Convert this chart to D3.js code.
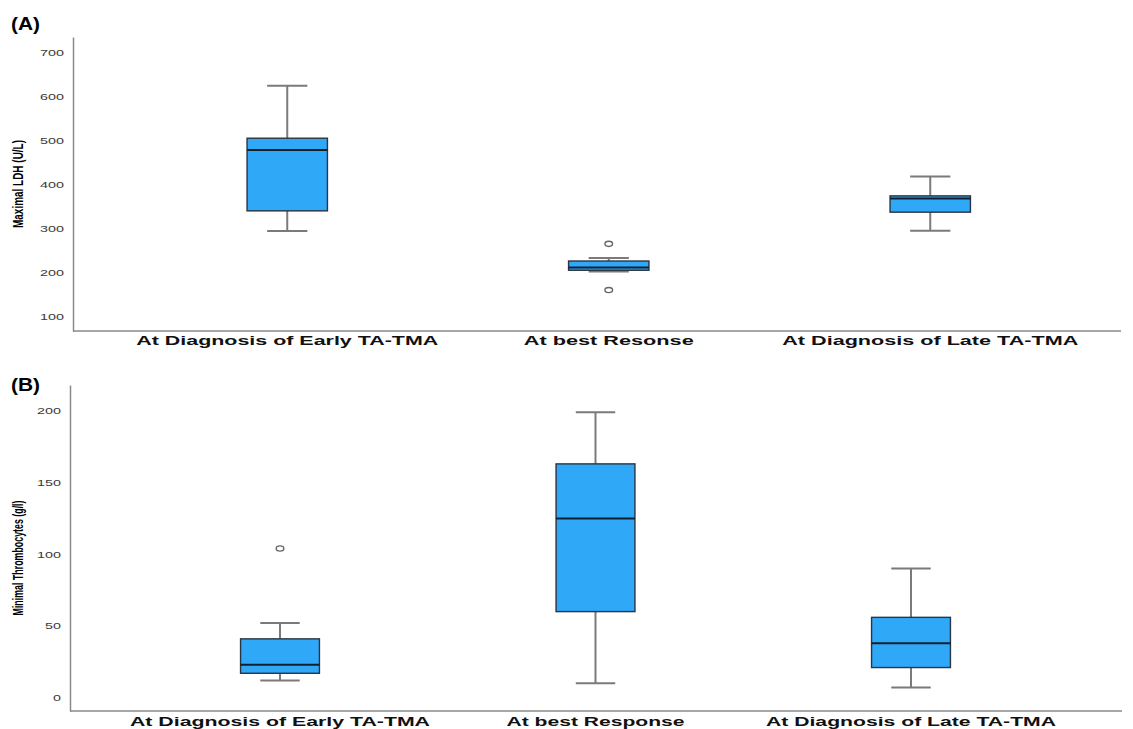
<!DOCTYPE html>
<html>
<head>
<meta charset="utf-8">
<script src="https://cdn.jsdelivr.net/npm/d3@7"></script>
<style>
  html, body { margin: 0; padding: 0; background: #fff; }
  svg { display: block; }
</style>
</head>
<body>
<svg id="chart" width="1133" height="729"></svg>
<script>
// Panel A: maximal LDH (U/L)
const categoriesA = ["At Diagnosis of Early TA-TMA", "At best Resonse", "At Diagnosis of Late TA-TMA"];
const ldhLow     = [293, 201, 294];
const ldhQ1      = [339, 204, 336];
const ldhMedian  = [477, 210, 367];
const ldhQ3      = [504, 225, 373];
const ldhHigh    = [623, 232, 417];
const ldhOutliers = [[], [264, 159], []];
const ldhTicks   = [100, 200, 300, 400, 500, 600, 700];

// Panel B: minimal thrombocytes (g/l)
const categoriesB = ["At Diagnosis of Early TA-TMA", "At best Response", "At Diagnosis of Late TA-TMA"];
const pltLow     = [12, 10, 7];
const pltQ1      = [17, 60, 21];
const pltMedian  = [23, 125, 38];
const pltQ3      = [41, 163, 56];
const pltHigh    = [52, 199, 90];
const pltOutliers = [[104], [], []];
const pltTicks   = [0, 50, 100, 150, 200];

const svg = d3.select("#chart");
const BOX_FILL = "#30a8f8";

function drawPanel(cfg) {
  const g = svg.append("g");
  const x = d3.scaleBand().domain(cfg.categories).range(cfg.xRange);
  const y = d3.scaleLinear().domain(cfg.yDomain).range(cfg.yRange);

  // y axis: line plus unticked labels
  const yAxis = g.append("g")
    .attr("transform", `translate(${cfg.axisX},0)`)
    .call(d3.axisLeft(y).tickValues(cfg.ticks).tickSize(0).tickPadding(9).tickFormat(d3.format("d")));
  yAxis.select(".domain").attr("stroke", "#8a8a8a").attr("stroke-width", 1.5);
  yAxis.selectAll("text")
    .attr("font-family", "Arial, 'Liberation Sans', sans-serif")
    .attr("font-size", 9.5)
    .attr("fill", "#3a3a3a")
    .attr("textLength", d => String(d).length * 8)
    .attr("lengthAdjust", "spacingAndGlyphs");

  // x axis baseline
  g.append("line")
    .attr("x1", cfg.axisX).attr("x2", cfg.axisRight)
    .attr("y1", cfg.yRange[0]).attr("y2", cfg.yRange[0])
    .attr("stroke", "#8a8a8a").attr("stroke-width", 1.5);

  // x category labels
  const xAxis = g.append("g")
    .attr("transform", `translate(0,${cfg.yRange[0]})`)
    .call(d3.axisBottom(x).tickSize(0));
  xAxis.select(".domain").remove();
  xAxis.selectAll("text")
    .attr("y", cfg.labelOffset).attr("dy", 0)
    .attr("font-family", "Arial, 'Liberation Sans', sans-serif")
    .attr("font-weight", "bold")
    .attr("font-size", 12)
    .attr("fill", "#111")
    .attr("textLength", (d, i) => cfg.labelLengths[i])
    .attr("lengthAdjust", "spacingAndGlyphs");

  const bw = x.bandwidth() * 0.25;
  const cw = bw * 0.5;

  cfg.categories.forEach((c, i) => {
    const cx = x(c) + x.bandwidth() / 2;
    const bg = g.append("g");
    // whiskers
    bg.append("line").attr("x1", cx).attr("x2", cx)
      .attr("y1", y(cfg.high[i])).attr("y2", y(cfg.q3[i]))
      .attr("stroke", "#7a7a7a").attr("stroke-width", 2);
    bg.append("line").attr("x1", cx).attr("x2", cx)
      .attr("y1", y(cfg.q1[i])).attr("y2", y(cfg.low[i]))
      .attr("stroke", "#7a7a7a").attr("stroke-width", 2);
    [cfg.high[i], cfg.low[i]].forEach(v => {
      bg.append("line").attr("x1", cx - cw / 2).attr("x2", cx + cw / 2)
        .attr("y1", y(v)).attr("y2", y(v))
        .attr("stroke", "#7a7a7a").attr("stroke-width", 2);
    });
    // box
    bg.append("rect")
      .attr("x", cx - bw / 2).attr("width", bw)
      .attr("y", y(cfg.q3[i])).attr("height", y(cfg.q1[i]) - y(cfg.q3[i]))
      .attr("fill", BOX_FILL).attr("stroke", "#2b3440").attr("stroke-width", 1.4);
    // median
    bg.append("line").attr("x1", cx - bw / 2).attr("x2", cx + bw / 2)
      .attr("y1", y(cfg.median[i])).attr("y2", y(cfg.median[i]))
      .attr("stroke", "#10202e").attr("stroke-width", 2);
    // outliers
    cfg.outliers[i].forEach(v => {
      bg.append("ellipse").attr("cx", cx).attr("cy", y(v))
        .attr("rx", 3.8).attr("ry", 2.6)
        .attr("fill", "none").attr("stroke", "#666").attr("stroke-width", 1.4);
    });
  });

  // y axis title (condensed)
  g.append("text")
    .attr("transform", `translate(${cfg.titleX},${cfg.titleY}) rotate(-90)`)
    .attr("text-anchor", "middle")
    .attr("font-family", "'Liberation Sans Narrow', 'Arial Narrow', Arial, sans-serif")
    .attr("font-weight", "bold")
    .attr("font-size", 14.5)
    .attr("fill", "#000")
    .attr("textLength", cfg.titleLength)
    .attr("lengthAdjust", "spacingAndGlyphs")
    .text(cfg.title);

  // panel letter
  g.append("text")
    .attr("x", 11).attr("y", cfg.letterY)
    .attr("font-family", "Arial, 'Liberation Sans', sans-serif")
    .attr("font-weight", "bold")
    .attr("font-size", 18)
    .attr("fill", "#000")
    .attr("textLength", 29)
    .attr("lengthAdjust", "spacingAndGlyphs")
    .text(cfg.letter);
}

drawPanel({
  categories: categoriesA,
  low: ldhLow, q1: ldhQ1, median: ldhMedian, q3: ldhQ3, high: ldhHigh, outliers: ldhOutliers,
  ticks: ldhTicks,
  xRange: [126.5, 1091],
  yDomain: [66, 734], yRange: [331, 37],
  axisX: 73, axisRight: 1121,
  labelOffset: 14, labelLengths: [302, 170, 296],
  title: "Maximal LDH (U/L)", titleX: 23, titleY: 184, titleLength: 88,
  letter: "(A)", letterY: 30
});

drawPanel({
  categories: categoriesB,
  low: pltLow, q1: pltQ1, median: pltMedian, q3: pltQ3, high: pltHigh, outliers: pltOutliers,
  ticks: pltTicks,
  xRange: [122.25, 1068.75],
  yDomain: [-9.3, 218], yRange: [711, 385],
  axisX: 70, axisRight: 1122,
  labelOffset: 15, labelLengths: [300, 178, 290],
  title: "Minimal Thrombocytes (g/l)", titleX: 23, titleY: 558, titleLength: 115,
  letter: "(B)", letterY: 391
});
</script>
</body>
</html>
